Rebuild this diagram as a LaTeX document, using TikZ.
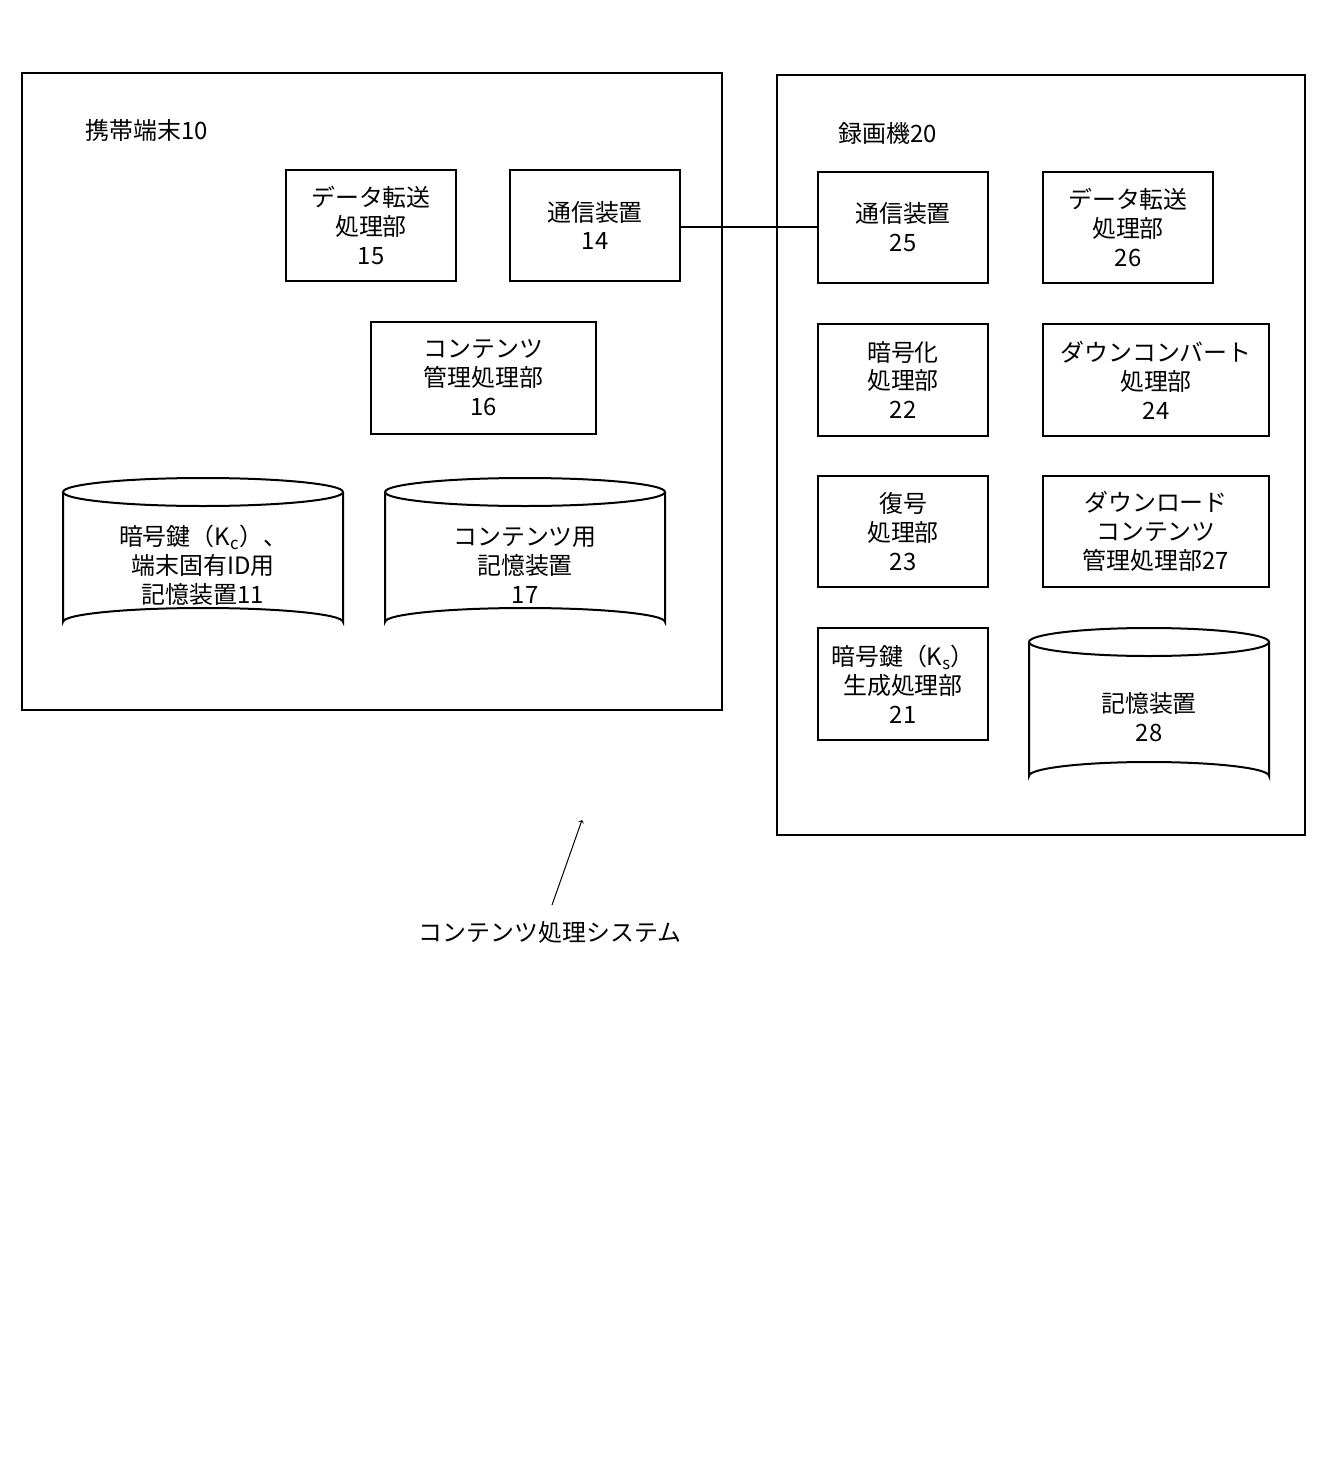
\documentclass[tikz,border=0pt]{standalone}
\usepackage{fontspec}
\setmainfont{Noto Sans CJK JP}
\begin{document}
\begin{tikzpicture}[x=1bp,y=-1bp,line width=2bp,
  bx/.style={draw,thick,line width=2bp,align=center,font=\fontsize{24}{29}\selectfont,inner sep=0},
  lbl/.style={font=\fontsize{24}{29}\selectfont,align=center}]
\useasboundingbox (0,0) rectangle (1323,1480);
\newcommand\bxat[6]{\draw (#2,#4) rectangle (#3,#5); \node[lbl] (#1) at ({(#2+#3)/2},{(#4+#5)/2}) {#6};}
\newcommand\cyl[6]{\pgfmathsetmacro\cx{(#2+#3)/2}\pgfmathsetmacro\rx{(#3-#2)/2}
  \draw (#2,#4+14) -- (#2,#5-14) arc[start angle=180,end angle=360,x radius=\rx,y radius=14] -- (#3,#4+14);
  \draw (\cx,#4+14) ellipse[x radius=\rx,y radius=14];
  \node[lbl] (#1) at (\cx,{(#4+#5)/2+8}) {#6};}
\draw (22,73) rectangle (722,710);
\draw (777,75) rectangle (1305,835);
\node[lbl] (t10) at (147,130) {携帯端末10};
\node[lbl] (t20) at (888,133) {録画機20};
\bxat{n15}{286}{456}{170}{281}{データ転送\\処理部\\15}
\bxat{n14}{510}{680}{170}{281}{通信装置\\14}
\bxat{n16}{371}{596}{322}{434}{コンテンツ\\管理処理部\\16}
\cyl{n11}{63}{343}{478}{636}{暗号鍵（K\textsubscript{c}）、\\端末固有ID用\\記憶装置11}
\cyl{n17}{385}{665}{478}{636}{コンテンツ用\\記憶装置\\17}
\bxat{n25}{818}{988}{172}{283}{通信装置\\25}
\bxat{n26}{1043}{1213}{172}{283}{データ転送\\処理部\\26}
\bxat{n22}{818}{988}{324}{436}{暗号化\\処理部\\22}
\bxat{n24}{1043}{1269}{324}{436}{ダウンコンバート\\処理部\\24}
\bxat{n23}{818}{988}{476}{587}{復号\\処理部\\23}
\bxat{n27}{1043}{1269}{476}{587}{ダウンロード\\コンテンツ\\管理処理部27}
\bxat{n21}{818}{988}{628}{740}{暗号鍵（K\textsubscript{s}）\\生成処理部\\21}
\cyl{n28}{1029}{1269}{628}{790}{記憶装置\\28}
\draw (680,227) -- (818,227);
\node[lbl] (sys) at (550,932) {コンテンツ処理システム};
\coordinate (ah) at (582,820);
\draw[line width=1bp,->] (552,905) -- (ah);
\end{tikzpicture}
\end{document}
